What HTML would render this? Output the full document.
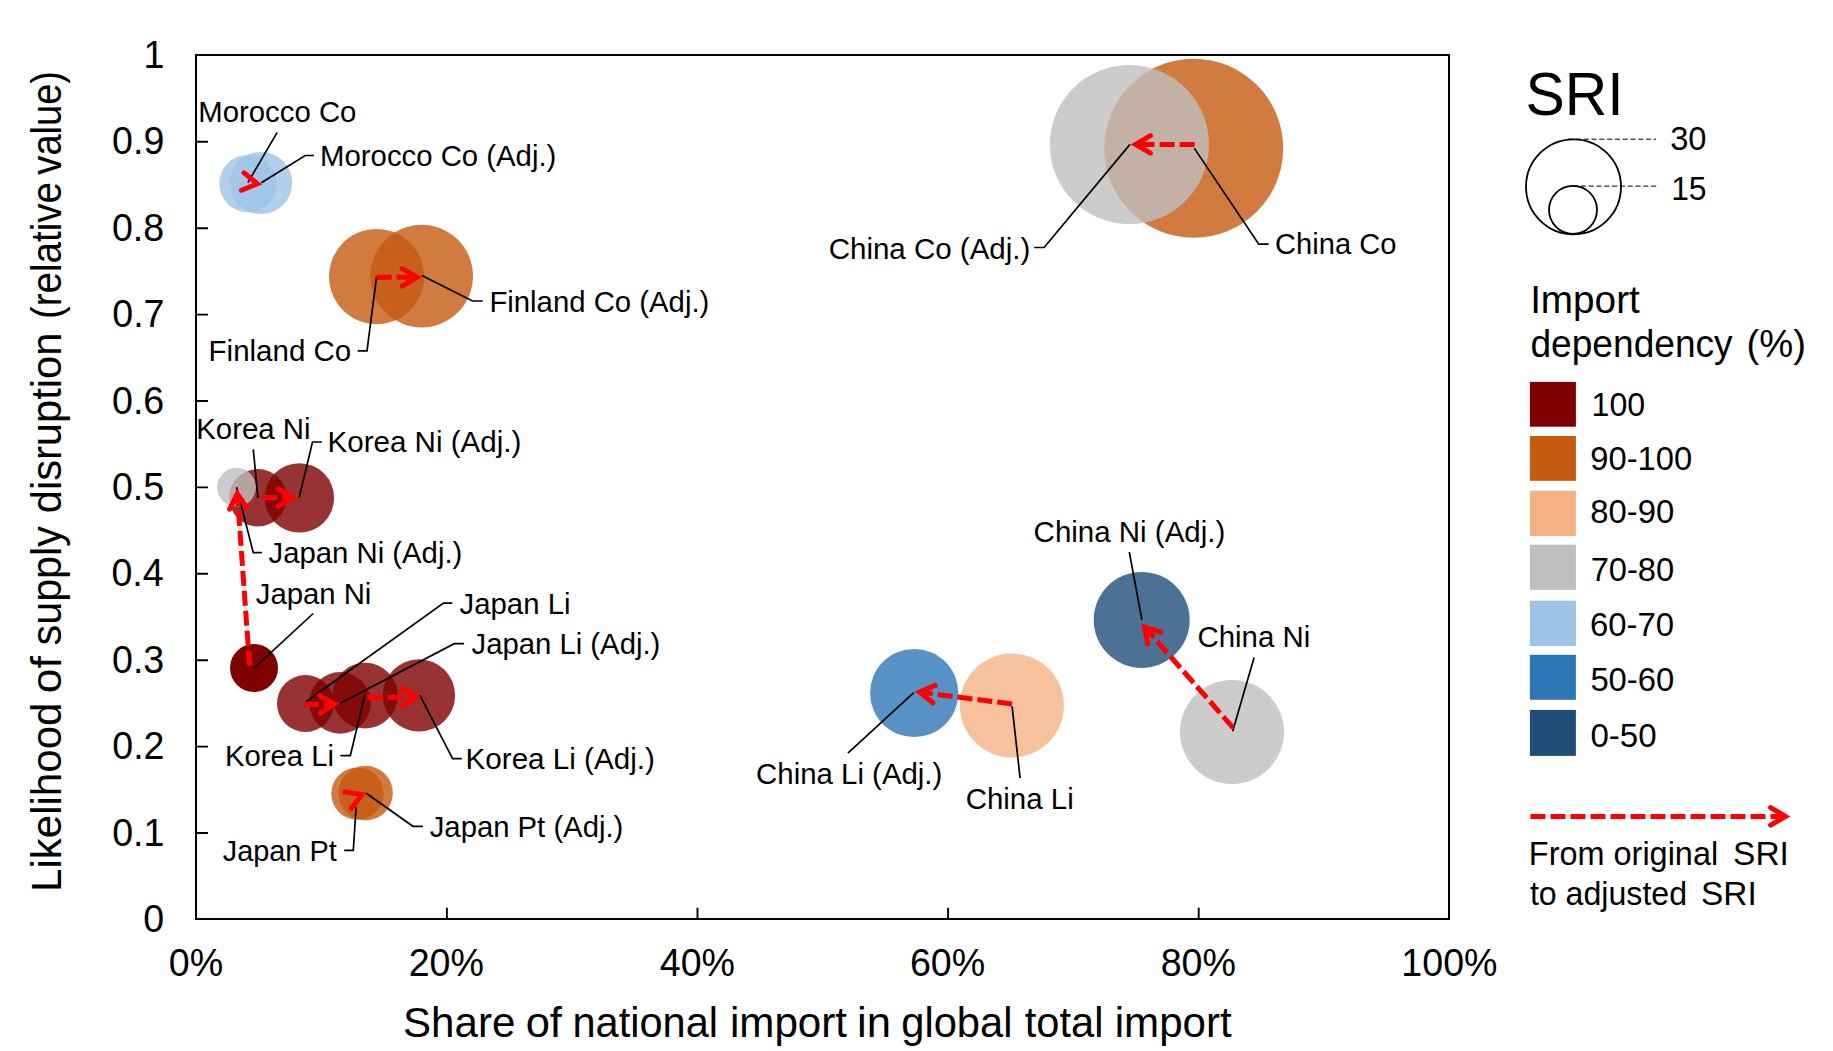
<!DOCTYPE html>
<html lang="en"><head><meta charset="utf-8"><title>Supply risk bubble chart</title>
<style>html,body{margin:0;padding:0;background:#fff}svg{display:block}</style></head>
<body>
<svg width="1833" height="1051" viewBox="0 0 1833 1051" font-family="'Liberation Sans', Arial, sans-serif" fill="#000">
<rect width="1833" height="1051" fill="#fff"/>
<g>
<circle cx="248.0" cy="183.6" r="28.7" fill="#9DC3E6" fill-opacity="0.8"/>
<circle cx="261.1" cy="183.0" r="31.1" fill="#9DC3E6" fill-opacity="0.8"/>
<circle cx="376.6" cy="276.6" r="47.6" fill="#C55A11" fill-opacity="0.8"/>
<circle cx="421.7" cy="276.1" r="51.3" fill="#C55A11" fill-opacity="0.8"/>
<circle cx="257.9" cy="497.8" r="28.7" fill="#800000" fill-opacity="0.8"/>
<circle cx="299.4" cy="497.9" r="34.7" fill="#800000" fill-opacity="0.8"/>
<circle cx="236.5" cy="487.2" r="19.4" fill="#BFBFBF" fill-opacity="0.8"/>
<circle cx="254.0" cy="668.0" r="24.0" fill="#800000" fill-opacity="1"/>
<circle cx="305.5" cy="703.5" r="28.5" fill="#800000" fill-opacity="0.8"/>
<circle cx="340.1" cy="702.9" r="30.8" fill="#800000" fill-opacity="0.8"/>
<circle cx="365.0" cy="695.6" r="32.8" fill="#800000" fill-opacity="0.8"/>
<circle cx="419.0" cy="695.4" r="36.1" fill="#800000" fill-opacity="0.8"/>
<circle cx="357.5" cy="793.6" r="26.2" fill="#C55A11" fill-opacity="0.8"/>
<circle cx="365.6" cy="793.1" r="27.3" fill="#C55A11" fill-opacity="0.8"/>
<circle cx="1193.7" cy="148.3" r="89.5" fill="#C55A11" fill-opacity="0.8"/>
<circle cx="1129.4" cy="144.5" r="79.6" fill="#BFBFBF" fill-opacity="0.8"/>
<circle cx="914.2" cy="693.0" r="44.1" fill="#2E75B6" fill-opacity="0.8"/>
<circle cx="1011.9" cy="705.5" r="52.0" fill="#F4B183" fill-opacity="0.8"/>
<circle cx="1141.7" cy="619.9" r="48.0" fill="#1F4E79" fill-opacity="0.8"/>
<circle cx="1232.0" cy="731.9" r="52.0" fill="#BFBFBF" fill-opacity="0.8"/>
</g>
<rect x="196" y="55" width="1253" height="864" fill="none" stroke="#000" stroke-width="2"/>
<path d="M196 833.0h12 M196 746.6h12 M196 660.2h12 M196 573.8h12 M196 487.4h12 M196 401.0h12 M196 314.6h12 M196 228.2h12 M196 141.8h12 M446.9 919v-11.2 M697.5 919v-11.2 M948.1 919v-11.2 M1198.7 919v-11.2" stroke="#000" stroke-width="1.9" fill="none"/>
<path d="M277.2 132.4L247.9 182.6 M313.9 155.5H305.2L261.3 182.8 M376.6 276.6L367.0 350.8H357.7 M421.9 275.5L472.5 301H482.7 M253.3 449.3L257.9 497.9 M321.9 442H312.5L299.2 497.6 M236.6 487.2L253.3 552.6H261.9 M313.2 613.5L254 668.1 M306 701.7L443.5 603.1H452.3 M340.4 703.3L454.2 643.7H464.1 M364.8 695.2L350.3 755.7H340.4 M419.8 695.2L452.6 758.7H461.8 M356.1 807.2L353.3 850.4H344.2 M366.3 793.2L412.9 826.3H422.9 M1194.2 148.1L1258.8 244.1H1268.6 M1130 144.4L1044.1 247.5H1034.2 M913.8 692.6L847.9 753.1 M1012.1 706.3L1020.1 778.1 M1129.3 552L1141.9 619.9 M1254.1 657.6L1232.7 731.2" stroke="#000" stroke-width="1.7" fill="none"/>
<g stroke="#FF0000" stroke-width="5" fill="none">
<path d="M241.4 190.2L257.4 183.8L244.1 172.9" stroke-linecap="round" stroke-linejoin="miter" stroke-miterlimit="10"/>
<path d="M376.6 277.4L417.0 277.3" stroke-dasharray="15 5"/>
<path d="M402.2 286.1L417.0 277.3L402.2 268.6" stroke-linecap="round" stroke-linejoin="miter" stroke-miterlimit="10"/>
<path d="M262.2 497.6L293.0 497.6" stroke-dasharray="15 5"/>
<path d="M278.2 506.4L293.0 497.6L278.2 488.9" stroke-linecap="round" stroke-linejoin="miter" stroke-miterlimit="10"/>
<path d="M249.6 665.6L237.3 493.8" stroke-dasharray="15 5"/>
<path d="M247.0 507.9L237.3 493.8L229.6 509.2" stroke-linecap="round" stroke-linejoin="miter" stroke-miterlimit="10"/>
<path d="M303.7 704.8L334.7 703.9" stroke-dasharray="15 5"/>
<path d="M320.2 713.0L334.7 703.9L319.6 695.6" stroke-linecap="round" stroke-linejoin="miter" stroke-miterlimit="10"/>
<path d="M367.4 697.5L416.4 697.1" stroke-dasharray="15 5"/>
<path d="M401.7 706.0L416.4 697.1L401.5 688.5" stroke-linecap="round" stroke-linejoin="miter" stroke-miterlimit="10"/>
<path d="M351.5 808.2L361.9 794.5L344.9 792.0" stroke-linecap="round" stroke-linejoin="miter" stroke-miterlimit="10"/>
<path d="M1194.6 144.4L1135.6 144.4" stroke-dasharray="15 5"/>
<path d="M1150.4 135.7L1135.6 144.4L1150.4 153.2" stroke-linecap="round" stroke-linejoin="miter" stroke-miterlimit="10"/>
<path d="M1012.1 704.0L919.6 692.2" stroke-dasharray="15 5"/>
<path d="M935.3 685.4L919.6 692.2L933.1 702.8" stroke-linecap="round" stroke-linejoin="miter" stroke-miterlimit="10"/>
<path d="M1233.2 727.8L1144.5 627.0" stroke-dasharray="15 5"/>
<path d="M1160.9 632.3L1144.5 627.0L1147.7 643.9" stroke-linecap="round" stroke-linejoin="miter" stroke-miterlimit="10"/>
<path d="M1530.5 816.4L1785.4 816.4" stroke-dasharray="15 5"/>
<path d="M1770.6 825.1L1785.4 816.4L1770.6 807.6" stroke-linecap="round" stroke-linejoin="miter" stroke-miterlimit="10"/>
</g>
<circle cx="1573.5" cy="186.8" r="47.5" fill="none" stroke="#000" stroke-width="1.8"/>
<circle cx="1573" cy="209.8" r="24.0" fill="none" stroke="#000" stroke-width="1.8"/>
<path d="M1568 139.2H1656M1573 186.1H1657.5" stroke="#000" stroke-width="1" stroke-dasharray="5.2 2.6" fill="none"/>
<rect x="1529.9" y="381.9" width="46" height="44.8" fill="#800000"/>
<rect x="1529.9" y="436.0" width="46" height="44.8" fill="#C55A11"/>
<rect x="1529.9" y="490.8" width="46" height="45.2" fill="#F4B183"/>
<rect x="1529.9" y="544.7" width="46" height="45.2" fill="#BFBFBF"/>
<rect x="1529.9" y="600.7" width="46" height="45.3" fill="#9DC3E6"/>
<rect x="1529.9" y="654.8" width="46" height="45.0" fill="#2E75B6"/>
<rect x="1529.9" y="709.9" width="46" height="46.0" fill="#1F4E79"/>
<text x="198.29" y="122.00" font-size="29.8" textLength="158.14" lengthAdjust="spacingAndGlyphs">Morocco Co</text>
<text x="320.10" y="165.70" font-size="29.8" textLength="236.22" lengthAdjust="spacingAndGlyphs">Morocco Co (Adj.)</text>
<text x="208.58" y="360.50" font-size="29.8" textLength="142.66" lengthAdjust="spacingAndGlyphs">Finland Co</text>
<text x="489.40" y="311.50" font-size="29.8" textLength="219.92" lengthAdjust="spacingAndGlyphs">Finland Co (Adj.)</text>
<text x="196.29" y="438.60" font-size="29.8" textLength="114.19" lengthAdjust="spacingAndGlyphs">Korea Ni</text>
<text x="327.47" y="452.00" font-size="29.8" textLength="193.86" lengthAdjust="spacingAndGlyphs">Korea Ni (Adj.)</text>
<text x="268.54" y="562.90" font-size="29.8" textLength="193.77" lengthAdjust="spacingAndGlyphs">Japan Ni (Adj.)</text>
<text x="255.74" y="603.90" font-size="29.8" textLength="115.63" lengthAdjust="spacingAndGlyphs">Japan Ni</text>
<text x="459.54" y="613.50" font-size="29.8" textLength="110.94" lengthAdjust="spacingAndGlyphs">Japan Li</text>
<text x="471.54" y="654.00" font-size="29.8" textLength="188.77" lengthAdjust="spacingAndGlyphs">Japan Li (Adj.)</text>
<text x="224.90" y="765.90" font-size="29.8" textLength="109.08" lengthAdjust="spacingAndGlyphs">Korea Li</text>
<text x="465.57" y="769.00" font-size="29.8" textLength="189.27" lengthAdjust="spacingAndGlyphs">Korea Li (Adj.)</text>
<text x="222.75" y="860.70" font-size="29.8" textLength="113.96" lengthAdjust="spacingAndGlyphs">Japan Pt</text>
<text x="429.74" y="836.50" font-size="29.8" textLength="193.57" lengthAdjust="spacingAndGlyphs">Japan Pt (Adj.)</text>
<text x="1275.12" y="253.50" font-size="29.8" textLength="121.20" lengthAdjust="spacingAndGlyphs">China Co</text>
<text x="828.70" y="258.60" font-size="29.8" textLength="201.63" lengthAdjust="spacingAndGlyphs">China Co (Adj.)</text>
<text x="756.11" y="783.80" font-size="29.8" textLength="186.22" lengthAdjust="spacingAndGlyphs">China Li (Adj.)</text>
<text x="965.71" y="808.70" font-size="29.8" textLength="107.98" lengthAdjust="spacingAndGlyphs">China Li</text>
<text x="1033.60" y="541.70" font-size="29.8" textLength="191.73" lengthAdjust="spacingAndGlyphs">China Ni (Adj.)</text>
<text x="1197.51" y="647.00" font-size="29.8" textLength="112.77" lengthAdjust="spacingAndGlyphs">China Ni</text>
<text x="143.16" y="931.9" font-size="38.2" textLength="20.91" lengthAdjust="spacingAndGlyphs">0</text>
<text x="112.17" y="845.5" font-size="38.2" textLength="52.27" lengthAdjust="spacingAndGlyphs">0.1</text>
<text x="112.22" y="759.1" font-size="38.2" textLength="52.27" lengthAdjust="spacingAndGlyphs">0.2</text>
<text x="111.98" y="672.7" font-size="38.2" textLength="52.27" lengthAdjust="spacingAndGlyphs">0.3</text>
<text x="111.43" y="586.3" font-size="38.2" textLength="52.27" lengthAdjust="spacingAndGlyphs">0.4</text>
<text x="111.91" y="499.9" font-size="38.2" textLength="52.27" lengthAdjust="spacingAndGlyphs">0.5</text>
<text x="111.98" y="413.5" font-size="38.2" textLength="52.27" lengthAdjust="spacingAndGlyphs">0.6</text>
<text x="112.22" y="327.1" font-size="38.2" textLength="52.27" lengthAdjust="spacingAndGlyphs">0.7</text>
<text x="111.96" y="240.7" font-size="38.2" textLength="52.27" lengthAdjust="spacingAndGlyphs">0.8</text>
<text x="112.11" y="154.3" font-size="38.2" textLength="52.27" lengthAdjust="spacingAndGlyphs">0.9</text>
<text x="143.52" y="67.9" font-size="38.2" textLength="20.91" lengthAdjust="spacingAndGlyphs">1</text>
<text x="168.76" y="976.2" font-size="38.2" textLength="54.34" lengthAdjust="spacingAndGlyphs">0%</text>
<text x="408.70" y="976.2" font-size="38.2" textLength="75.26" lengthAdjust="spacingAndGlyphs">20%</text>
<text x="659.81" y="976.2" font-size="38.2" textLength="75.26" lengthAdjust="spacingAndGlyphs">40%</text>
<text x="909.89" y="976.2" font-size="38.2" textLength="75.26" lengthAdjust="spacingAndGlyphs">60%</text>
<text x="1160.63" y="976.2" font-size="38.2" textLength="75.26" lengthAdjust="spacingAndGlyphs">80%</text>
<text x="1401.35" y="976.2" font-size="38.2" textLength="96.17" lengthAdjust="spacingAndGlyphs">100%</text>
<text x="402.99" y="1036.80" font-size="43.2" textLength="112.38" lengthAdjust="spacingAndGlyphs">Share</text>
<text x="525.67" y="1036.80" font-size="43.2" textLength="36.26" lengthAdjust="spacingAndGlyphs">of</text>
<text x="572.44" y="1036.80" font-size="43.2" textLength="145.54" lengthAdjust="spacingAndGlyphs">national</text>
<text x="729.98" y="1036.80" font-size="43.2" textLength="117.03" lengthAdjust="spacingAndGlyphs">import</text>
<text x="857.08" y="1036.80" font-size="43.2" textLength="33.95" lengthAdjust="spacingAndGlyphs">in</text>
<text x="901.25" y="1036.80" font-size="43.2" textLength="111.24" lengthAdjust="spacingAndGlyphs">global</text>
<text x="1024.77" y="1036.80" font-size="43.2" textLength="78.72" lengthAdjust="spacingAndGlyphs">total</text>
<text x="1114.78" y="1036.80" font-size="43.2" textLength="116.92" lengthAdjust="spacingAndGlyphs">import</text>
<text transform="translate(61.3 891.95) rotate(-90)" font-size="43.2" textLength="189.36" lengthAdjust="spacingAndGlyphs">Likelihood</text>
<text transform="translate(61.3 693.27) rotate(-90)" font-size="43.2" textLength="37.10" lengthAdjust="spacingAndGlyphs">of</text>
<text transform="translate(61.3 645.45) rotate(-90)" font-size="43.2" textLength="119.33" lengthAdjust="spacingAndGlyphs">supply</text>
<text transform="translate(61.3 513.25) rotate(-90)" font-size="43.2" textLength="180.55" lengthAdjust="spacingAndGlyphs">disruption</text>
<text transform="translate(61.3 319.09) rotate(-90)" font-size="43.2" textLength="137.10" lengthAdjust="spacingAndGlyphs">(relative</text>
<text transform="translate(61.3 174.63) rotate(-90)" font-size="43.2" textLength="103.69" lengthAdjust="spacingAndGlyphs">value)</text>
<text x="1525.43" y="114.80" font-size="60.9" textLength="98.10" lengthAdjust="spacingAndGlyphs">SRI</text>
<text x="1670.16" y="150.20" font-size="32.7" textLength="36.32" lengthAdjust="spacingAndGlyphs">30</text>
<text x="1671.18" y="199.50" font-size="32.7" textLength="35.36" lengthAdjust="spacingAndGlyphs">15</text>
<text x="1530.13" y="312.60" font-size="38.6" textLength="109.65" lengthAdjust="spacingAndGlyphs">Import</text>
<text x="1530.44" y="357.20" font-size="38.6" textLength="202.23" lengthAdjust="spacingAndGlyphs">dependency</text>
<text x="1746.43" y="357.20" font-size="38.6" textLength="59.44" lengthAdjust="spacingAndGlyphs">(%)</text>
<text x="1591.55" y="416.20" font-size="33.7" textLength="53.60" lengthAdjust="spacingAndGlyphs">100</text>
<text x="1590.37" y="470.40" font-size="33.7" textLength="101.81" lengthAdjust="spacingAndGlyphs">90-100</text>
<text x="1590.27" y="522.50" font-size="33.7" textLength="83.91" lengthAdjust="spacingAndGlyphs">80-90</text>
<text x="1590.63" y="580.60" font-size="33.7" textLength="83.55" lengthAdjust="spacingAndGlyphs">70-80</text>
<text x="1590.03" y="636.30" font-size="33.7" textLength="84.16" lengthAdjust="spacingAndGlyphs">60-70</text>
<text x="1590.39" y="691.30" font-size="33.7" textLength="83.89" lengthAdjust="spacingAndGlyphs">50-60</text>
<text x="1590.41" y="747.20" font-size="33.7" textLength="66.18" lengthAdjust="spacingAndGlyphs">0-50</text>
<text x="1528.84" y="865.40" font-size="33.8" textLength="189.33" lengthAdjust="spacingAndGlyphs">From original</text>
<text x="1733.08" y="865.40" font-size="33.8" textLength="55.81" lengthAdjust="spacingAndGlyphs">SRI</text>
<text x="1529.91" y="904.90" font-size="33.8" textLength="157.16" lengthAdjust="spacingAndGlyphs">to adjusted</text>
<text x="1701.08" y="904.90" font-size="33.8" textLength="55.70" lengthAdjust="spacingAndGlyphs">SRI</text>
</svg>
</body></html>
